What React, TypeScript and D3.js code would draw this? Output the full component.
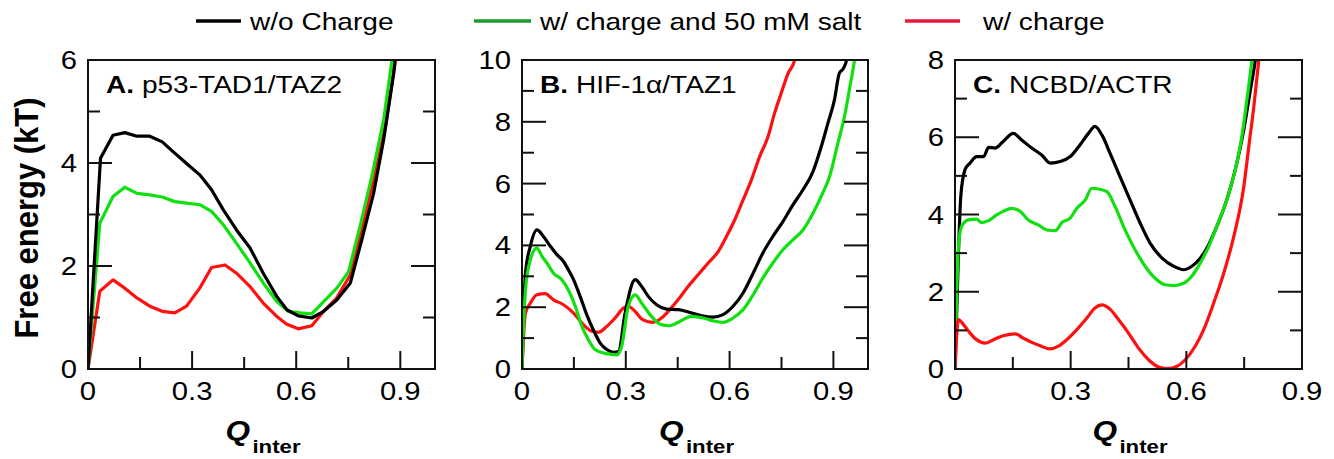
import React from 'react';
import * as d3 from 'd3';

// Free-energy profiles, [Q_inter, F (kT)]
const aBlack = [[0,0],[0.036,4.09],[0.072,4.54],[0.106,4.59],[0.141,4.52],[0.178,4.52],[0.214,4.41],[0.245,4.22],[0.284,3.99],[0.322,3.77],[0.356,3.48],[0.39,3.09],[0.428,2.7],[0.467,2.35],[0.505,1.86],[0.544,1.41],[0.573,1.15],[0.606,1.03],[0.645,0.99],[0.679,1.12],[0.717,1.34],[0.756,1.67],[0.789,2.51],[0.823,3.41],[0.852,4.45],[0.881,5.74],[0.895,6.6]];
const aGreen = [[0,0],[0.034,2.83],[0.072,3.35],[0.106,3.53],[0.141,3.41],[0.178,3.38],[0.214,3.34],[0.25,3.25],[0.284,3.22],[0.322,3.19],[0.356,3.06],[0.39,2.8],[0.428,2.44],[0.467,2.06],[0.505,1.67],[0.544,1.31],[0.577,1.12],[0.611,1.09],[0.645,1.07],[0.679,1.31],[0.717,1.57],[0.751,1.89],[0.784,2.77],[0.818,3.74],[0.852,4.84],[0.876,6.0],[0.885,6.6]];
const aRed = [[0,0],[0.034,1.51],[0.072,1.73],[0.106,1.57],[0.141,1.38],[0.178,1.22],[0.214,1.12],[0.25,1.09],[0.284,1.22],[0.322,1.57],[0.356,1.97],[0.395,2.02],[0.428,1.86],[0.467,1.6],[0.505,1.28],[0.544,1.02],[0.573,0.87],[0.606,0.78],[0.645,0.84],[0.679,1.12],[0.717,1.38],[0.756,1.83],[0.789,2.7],[0.823,3.67],[0.857,4.71],[0.886,6.0],[0.895,6.6]];

const bBlack = [[0,0],[0.01,3.1],[0.024,3.97],[0.043,4.5],[0.062,4.29],[0.082,3.97],[0.101,3.7],[0.12,3.48],[0.134,3.21],[0.149,2.89],[0.168,2.35],[0.187,1.76],[0.206,1.27],[0.226,0.84],[0.245,0.63],[0.264,0.54],[0.279,0.57],[0.298,1.81],[0.327,2.89],[0.346,2.67],[0.365,2.35],[0.389,2.08],[0.418,1.94],[0.452,1.92],[0.485,1.83],[0.52,1.72],[0.552,1.68],[0.581,1.76],[0.61,2.03],[0.639,2.46],[0.668,3.1],[0.696,3.75],[0.725,4.29],[0.754,4.77],[0.783,5.31],[0.812,5.8],[0.841,6.39],[0.865,7.2],[0.884,7.95],[0.903,8.71],[0.917,9.57],[0.929,9.73],[0.938,10.0],[0.945,10.6]];
const bGreen = [[0,0],[0.01,2.56],[0.024,3.53],[0.043,3.91],[0.058,3.64],[0.072,3.43],[0.091,3.1],[0.115,2.89],[0.134,2.56],[0.154,2.03],[0.173,1.38],[0.192,0.95],[0.211,0.63],[0.235,0.52],[0.254,0.48],[0.274,0.46],[0.288,0.73],[0.307,2.03],[0.327,2.4],[0.346,2.13],[0.37,1.76],[0.399,1.45],[0.427,1.4],[0.456,1.54],[0.49,1.7],[0.524,1.65],[0.552,1.56],[0.581,1.51],[0.61,1.65],[0.639,1.92],[0.668,2.4],[0.696,2.94],[0.725,3.43],[0.754,3.86],[0.783,4.18],[0.812,4.5],[0.841,5.04],[0.869,5.69],[0.889,6.23],[0.913,7.31],[0.932,8.17],[0.946,9.03],[0.961,10.0],[0.968,10.6]];
const bRed = [[0,0],[0.01,1.81],[0.024,2.13],[0.043,2.4],[0.067,2.44],[0.091,2.24],[0.12,2.08],[0.149,1.81],[0.178,1.43],[0.202,1.22],[0.221,1.19],[0.245,1.38],[0.269,1.65],[0.293,1.97],[0.307,2.03],[0.327,1.86],[0.35,1.59],[0.379,1.51],[0.403,1.65],[0.427,1.92],[0.451,2.24],[0.48,2.67],[0.509,3.05],[0.538,3.43],[0.567,3.8],[0.591,4.29],[0.615,4.83],[0.639,5.47],[0.663,6.12],[0.687,6.88],[0.711,7.52],[0.73,8.28],[0.749,8.92],[0.769,9.57],[0.788,10.0],[0.798,10.6]];

const cBlack = [[0,0],[0.009,3.0],[0.015,4.47],[0.026,5.16],[0.039,5.33],[0.056,5.5],[0.074,5.5],[0.087,5.74],[0.104,5.72],[0.125,5.89],[0.151,6.1],[0.173,5.93],[0.199,5.72],[0.225,5.54],[0.247,5.33],[0.273,5.37],[0.299,5.5],[0.324,5.8],[0.346,6.1],[0.363,6.28],[0.381,6.06],[0.402,5.59],[0.428,4.98],[0.454,4.38],[0.48,3.78],[0.506,3.26],[0.537,2.87],[0.567,2.66],[0.593,2.57],[0.614,2.66],[0.636,2.87],[0.658,3.22],[0.679,3.69],[0.705,4.38],[0.727,5.16],[0.749,6.19],[0.766,7.22],[0.779,8.0],[0.786,8.6]];
const cGreen = [[0,0],[0.009,3.17],[0.017,3.69],[0.035,3.86],[0.056,3.88],[0.069,3.79],[0.087,3.84],[0.108,3.99],[0.125,4.08],[0.147,4.16],[0.169,4.08],[0.19,3.86],[0.216,3.73],[0.238,3.6],[0.26,3.58],[0.277,3.79],[0.299,3.91],[0.316,4.16],[0.338,4.38],[0.355,4.68],[0.372,4.66],[0.394,4.59],[0.415,4.21],[0.441,3.6],[0.467,3.09],[0.493,2.66],[0.519,2.35],[0.545,2.18],[0.567,2.16],[0.593,2.22],[0.614,2.4],[0.636,2.74],[0.658,3.17],[0.679,3.69],[0.705,4.38],[0.727,5.16],[0.744,6.02],[0.757,6.97],[0.77,8.0],[0.776,8.6]];
const cRed = [[0,0],[0.009,1.28],[0.022,1.15],[0.039,0.93],[0.056,0.76],[0.078,0.67],[0.1,0.76],[0.125,0.86],[0.156,0.91],[0.177,0.8],[0.199,0.69],[0.221,0.6],[0.247,0.52],[0.268,0.59],[0.29,0.76],[0.316,1.02],[0.342,1.32],[0.363,1.58],[0.381,1.66],[0.402,1.55],[0.424,1.28],[0.45,0.93],[0.476,0.54],[0.502,0.24],[0.528,0.05],[0.55,0.01],[0.576,0.07],[0.597,0.24],[0.623,0.59],[0.645,1.02],[0.671,1.71],[0.697,2.48],[0.723,3.43],[0.749,4.72],[0.762,5.76],[0.775,6.79],[0.788,8.0],[0.795,8.6]];

const legendLabels = ['w/o Charge', 'w/ charge and 50 mM salt', 'w/ charge'];
const xTickLabels = [0, 0.3, 0.6, 0.9];

const FONT = '"Liberation Sans", Arial, Helvetica, sans-serif';
const SX = 1.17; // the original text is a little wide

const curveCol = { black: '#000000', green: '#10e010', red: '#ff1010' };
const legendCol = ['#000000', '#1c9c2a', '#e8173c'];

const panels = [
  { id: 'A', letter: 'A.', name: 'p53-TAD1/TAZ2', left: 88, right: 435, xMax: 1, yMax: 6, smooth: false,
    series: [{ d: aRed, c: curveCol.red }, { d: aGreen, c: curveCol.green }, { d: aBlack, c: curveCol.black }] },
  { id: 'B', letter: 'B.', name: 'HIF-1\u03b1/TAZ1', left: 522, right: 868, xMax: 1, yMax: 10, smooth: true,
    series: [{ d: bRed, c: curveCol.red }, { d: bBlack, c: curveCol.black }, { d: bGreen, c: curveCol.green }] },
  { id: 'C', letter: 'C.', name: 'NCBD/ACTR', left: 955, right: 1302, xMax: 0.9, yMax: 8, smooth: true,
    series: [{ d: cBlack, c: curveCol.black }, { d: cGreen, c: curveCol.green }, { d: cRed, c: curveCol.red }] },
];

const TOP = 60;
const BOTTOM = 369;

const Txt = ({ x, y, size, anchor = 'start', weight = 'normal', children }: any) => (
  <text transform={`translate(${x},${y}) scale(${SX},1)`} fontSize={size} fontWeight={weight}
    textAnchor={anchor} fontFamily={FONT} fill="#000">{children}</text>
);

const Panel = ({ p }: any) => {
  const x = d3.scaleLinear().domain([0, p.xMax]).range([p.left, p.right]);
  const y = d3.scaleLinear().domain([0, p.yMax]).range([BOTTOM, TOP]);
  const line = d3.line<number[]>()
    .x(d => x(d[0]))
    .y(d => y(d[1]))
    .curve(p.smooth ? d3.curveMonotoneX : d3.curveLinear);

  const xTicks = d3.range(0.15, p.xMax - 0.01, 0.15);
  const yTicks = d3.range(1, p.yMax);
  const yLabels = d3.range(0, p.yMax + 1, 2);
  const major = 24, minor = 12;
  const cx = (p.left + p.right) / 2;

  return (
    <g>
      <defs>
        <clipPath id={`clip${p.id}`}>
          <rect x={p.left} y={TOP} width={p.right - p.left} height={BOTTOM - TOP} />
        </clipPath>
      </defs>
      <g clipPath={`url(#clip${p.id})`}>
        {p.series.map((s: any, i: number) => (
          <path key={i} d={line(s.d) || ''} fill="none" stroke={s.c} strokeWidth={3.2} strokeLinejoin="round" />
        ))}
      </g>
      <g stroke="#111" strokeWidth={2}>
        {xTicks.map((t: number) => {
          const isMajor = Math.abs((t / 0.3) - Math.round(t / 0.3)) < 0.01;
          return <line key={t} x1={x(t)} x2={x(t)} y1={BOTTOM} y2={BOTTOM - (isMajor ? major - 6 : minor)} />;
        })}
        {yTicks.map((t: number) => {
          const len = t % 2 === 0 ? major : minor;
          return (
            <g key={t}>
              <line x1={p.left} x2={p.left + len} y1={y(t)} y2={y(t)} />
              <line x1={p.right} x2={p.right - len} y1={y(t)} y2={y(t)} />
            </g>
          );
        })}
        <rect x={p.left} y={TOP} width={p.right - p.left} height={BOTTOM - TOP} fill="none" />
      </g>
      {yLabels.map((t: number) => (
        <Txt key={t} x={p.left - 11} y={y(t) + 9} size={25} anchor="end">{t}</Txt>
      ))}
      {xTickLabels.map((t: number) => (
        <Txt key={t} x={x(t)} y={BOTTOM + 31} size={25} anchor="middle">{t === 0 ? '0' : t.toFixed(1)}</Txt>
      ))}
      <Txt x={p.left + 18} y={93} size={24}>
        <tspan fontWeight="bold">{p.letter}</tspan> {p.name}
      </Txt>
      <text transform={`translate(${cx - 36},440) scale(${SX},1)`} fontFamily={FONT} fill="#000" fontWeight="bold">
        <tspan fontSize={27} fontStyle="italic">Q</tspan>
        <tspan fontSize={19} dx={2} dy={13}>inter</tspan>
      </text>
    </g>
  );
};

const Legend = () => {
  const items = [
    { x0: 196, x1: 241, tx: 250 },
    { x0: 474, x1: 531, tx: 540 },
    { x0: 905, x1: 960, tx: 983 },
  ];
  return (
    <g>
      {items.map((it, i) => (
        <g key={i}>
          <line x1={it.x0} x2={it.x1} y1={21} y2={21} stroke={legendCol[i]} strokeWidth={3.5} />
          <Txt x={it.tx} y={30} size={24}>{legendLabels[i]}</Txt>
        </g>
      ))}
    </g>
  );
};

export default function App() {
  return (
    <svg width={1334} height={459} style={{ position: 'absolute', left: 0, top: 0, background: '#fff' }}>
      <Legend />
      {panels.map(p => <Panel key={p.id} p={p} />)}
      <text transform="translate(38,218) scale(1.1,1) rotate(-90)" fontSize={31} fontWeight="bold"
        fontFamily={FONT} textAnchor="middle" fill="#000">Free energy (kT)</text>
    </svg>
  );
}
